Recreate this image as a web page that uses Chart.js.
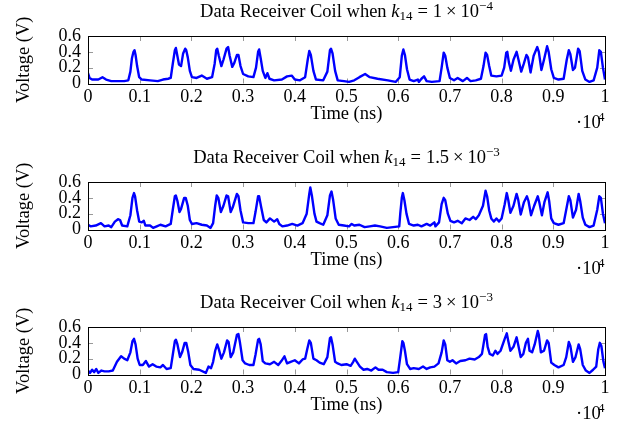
<!DOCTYPE html>
<html>
<head>
<meta charset="utf-8">
<script src="https://cdn.jsdelivr.net/npm/chart.js@4.4.0/dist/chart.umd.min.js"></script>
<style>
body { margin: 0; background: #fff; width: 623px; height: 429px; overflow: hidden; position: relative; }
.box { position: absolute; left: 0; width: 623px; height: 143px; }
</style>
</head>
<body>
<div class="box" style="top:0"><canvas id="c1"></canvas></div>
<div class="box" style="top:146px"><canvas id="c2"></canvas></div>
<div class="box" style="top:291px"><canvas id="c3"></canvas></div>
<script>
// coupling values shown in the titles
const coefs = ['1', '1.5', '3'];
const exps = ['\u22124', '\u22123', '\u22123'];

const xTicks = [0, 1000, 2000, 3000, 4000, 5000, 6000, 7000, 8000, 9000, 10000];
const yTicks = [0, 0.2, 0.4, 0.6];

// k14 = 1e-4
const t1 = [0,30,80,200,280,350,450,600,700,780,820,850,880,900,920,950,990,1040,1200,1350,1450,1550,1600,1640,1680,1700,1720,1760,1800,1840,1880,1900,1930,1970,2010,2100,2200,2300,2400,2450,2480,2500,2530,2580,2620,2680,2710,2740,2790,2830,2880,2910,2950,3000,3100,3200,3250,3290,3310,3340,3380,3430,3470,3510,3600,3750,3850,3940,4000,4100,4200,4250,4280,4310,4360,4410,4550,4630,4680,4700,4730,4780,4830,4950,5050,5150,5250,5360,5450,5600,5800,5950,6030,6070,6100,6130,6170,6220,6300,6380,6400,6450,6500,6550,6650,6800,6840,6880,6910,6950,7000,7080,7150,7250,7330,7400,7500,7600,7650,7690,7720,7760,7800,7900,8000,8050,8090,8110,8140,8180,8230,8290,8320,8380,8430,8480,8510,8560,8620,8690,8720,8770,8820,8880,8910,8960,9010,9100,9200,9260,9300,9330,9380,9420,9480,9510,9560,9620,9700,9780,9850,9890,9920,9960,10000];
const v1 = [0.13,0.07,0.05,0.05,0.08,0.05,0.03,0.03,0.03,0.04,0.15,0.32,0.40,0.42,0.36,0.22,0.08,0.05,0.04,0.03,0.05,0.06,0.07,0.25,0.42,0.45,0.38,0.24,0.22,0.38,0.44,0.42,0.33,0.16,0.08,0.07,0.10,0.06,0.08,0.25,0.42,0.44,0.35,0.22,0.30,0.44,0.46,0.35,0.21,0.26,0.36,0.36,0.22,0.12,0.09,0.08,0.20,0.40,0.43,0.32,0.16,0.07,0.13,0.06,0.04,0.05,0.09,0.10,0.05,0.04,0.08,0.30,0.41,0.36,0.16,0.05,0.04,0.15,0.42,0.44,0.38,0.16,0.04,0.03,0.02,0.04,0.08,0.12,0.08,0.06,0.04,0.02,0.08,0.35,0.43,0.36,0.18,0.05,0.03,0.05,0.02,0.06,0.09,0.03,0.02,0.03,0.20,0.39,0.35,0.20,0.07,0.04,0.07,0.03,0.07,0.03,0.04,0.06,0.22,0.39,0.36,0.22,0.10,0.09,0.10,0.20,0.39,0.40,0.27,0.16,0.30,0.40,0.32,0.15,0.25,0.36,0.33,0.14,0.35,0.46,0.40,0.17,0.30,0.47,0.40,0.18,0.07,0.05,0.06,0.30,0.42,0.37,0.17,0.20,0.44,0.41,0.16,0.05,0.02,0.04,0.20,0.42,0.40,0.20,0.05];

// k14 = 1.5e-3
const t2 = [0,50,150,250,320,400,450,520,580,620,660,760,820,860,890,910,950,990,1040,1080,1110,1200,1260,1330,1400,1500,1600,1640,1680,1700,1730,1770,1800,1860,1890,1930,1970,2010,2100,2200,2300,2370,2420,2460,2490,2520,2570,2620,2680,2710,2760,2800,2880,2910,2950,3000,3100,3200,3240,3290,3310,3350,3400,3450,3520,3600,3660,3700,3760,3850,3950,4050,4150,4230,4280,4300,4330,4380,4420,4480,4550,4630,4680,4710,4740,4790,4850,4950,5050,5100,5150,5250,5350,5450,5550,5650,5780,5900,6020,6040,6070,6090,6120,6160,6210,6300,6380,6450,6550,6620,6700,6720,6790,6840,6880,6910,6960,7010,7080,7150,7230,7300,7380,7450,7500,7560,7640,7690,7720,7760,7800,7850,7900,7950,8000,8060,8100,8130,8170,8230,8290,8320,8370,8430,8490,8520,8570,8630,8700,8730,8780,8830,8890,8920,8960,9010,9100,9200,9250,9300,9330,9380,9440,9490,9520,9570,9620,9700,9780,9850,9890,9920,9960,10000];
const v2 = [0.06,0.04,0.05,0.08,0.04,0.05,0.03,0.10,0.13,0.12,0.05,0.04,0.18,0.40,0.46,0.42,0.24,0.10,0.09,0.11,0.05,0.05,0.02,0.04,0.06,0.04,0.07,0.25,0.42,0.43,0.36,0.22,0.26,0.40,0.40,0.30,0.12,0.07,0.08,0.06,0.05,0.02,0.08,0.30,0.43,0.40,0.22,0.30,0.43,0.42,0.22,0.28,0.45,0.42,0.24,0.09,0.08,0.08,0.22,0.42,0.42,0.28,0.12,0.09,0.14,0.10,0.13,0.07,0.04,0.05,0.07,0.05,0.08,0.20,0.45,0.53,0.43,0.20,0.10,0.08,0.06,0.18,0.43,0.48,0.38,0.14,0.06,0.05,0.04,0.07,0.05,0.06,0.03,0.04,0.05,0.04,0.02,0.03,0.04,0.20,0.40,0.46,0.37,0.20,0.07,0.05,0.06,0.04,0.07,0.05,0.09,0.04,0.09,0.32,0.40,0.37,0.20,0.11,0.09,0.11,0.08,0.14,0.12,0.16,0.13,0.18,0.30,0.49,0.42,0.24,0.14,0.10,0.14,0.10,0.14,0.32,0.46,0.37,0.21,0.30,0.45,0.38,0.19,0.34,0.42,0.36,0.18,0.30,0.42,0.34,0.18,0.35,0.47,0.36,0.14,0.08,0.06,0.08,0.25,0.42,0.37,0.15,0.25,0.45,0.36,0.15,0.06,0.03,0.05,0.25,0.42,0.40,0.20,0.08];

// k14 = 3e-3
const t3 = [0,40,80,120,160,200,260,320,400,480,560,640,700,760,820,860,890,920,960,1000,1060,1120,1180,1250,1320,1400,1450,1520,1600,1640,1680,1700,1730,1780,1820,1870,1900,1940,1980,2040,2150,2280,2330,2380,2420,2460,2500,2530,2580,2630,2690,2720,2760,2810,2880,2910,2940,2990,3040,3120,3200,3240,3290,3310,3340,3380,3430,3520,3600,3680,3740,3800,3850,3920,4000,4080,4150,4200,4240,4280,4310,4360,4420,4480,4560,4630,4680,4700,4730,4780,4830,4900,5000,5080,5130,5160,5200,5260,5330,5400,5480,5560,5620,5700,5780,5900,6000,6040,6080,6100,6130,6170,6230,6300,6400,6480,6550,6620,6700,6780,6840,6880,6910,6950,7000,7050,7120,7200,7300,7380,7480,7560,7620,7680,7700,7730,7770,7830,7880,7920,7980,8060,8100,8130,8170,8230,8290,8320,8370,8420,8470,8510,8540,8590,8640,8700,8720,8760,8820,8880,8910,8960,9020,9100,9200,9250,9300,9330,9380,9430,9490,9520,9570,9630,9700,9770,9830,9870,9900,9930,9970,10000];
const v3 = [0.05,0.02,0.06,0.03,0.07,0.02,0.05,0.04,0.04,0.05,0.16,0.23,0.20,0.18,0.28,0.42,0.45,0.38,0.20,0.12,0.12,0.17,0.10,0.13,0.10,0.09,0.12,0.07,0.08,0.25,0.42,0.44,0.38,0.22,0.28,0.40,0.40,0.28,0.12,0.07,0.06,0.02,0.10,0.08,0.16,0.30,0.38,0.32,0.20,0.28,0.43,0.41,0.22,0.28,0.50,0.51,0.40,0.18,0.14,0.12,0.12,0.25,0.44,0.45,0.38,0.17,0.14,0.13,0.16,0.12,0.17,0.23,0.14,0.16,0.18,0.14,0.19,0.20,0.32,0.43,0.40,0.20,0.18,0.15,0.13,0.22,0.46,0.47,0.38,0.16,0.14,0.12,0.13,0.11,0.16,0.20,0.16,0.10,0.06,0.07,0.05,0.09,0.06,0.06,0.03,0.02,0.03,0.22,0.42,0.40,0.30,0.13,0.07,0.08,0.07,0.10,0.07,0.09,0.10,0.14,0.28,0.43,0.38,0.18,0.16,0.18,0.14,0.17,0.18,0.20,0.19,0.22,0.26,0.50,0.51,0.35,0.26,0.24,0.30,0.26,0.30,0.45,0.52,0.42,0.30,0.35,0.47,0.38,0.22,0.26,0.40,0.45,0.30,0.28,0.38,0.55,0.50,0.28,0.30,0.43,0.40,0.15,0.12,0.09,0.12,0.22,0.41,0.36,0.16,0.22,0.38,0.32,0.12,0.05,0.02,0.06,0.10,0.32,0.40,0.36,0.16,0.08];

const SERIF = '"Liberation Serif", "Times New Roman", serif';
const FS = 18;

// frame, inward ticks and the LaTeX-like labels
const decor = {
    id: 'decor',
    beforeDatasetsDraw(chart, args, opts) {
        const ctx = chart.ctx, a = chart.chartArea;
        const xs = chart.scales.x, ys = chart.scales.y;
        ctx.save();
        ctx.strokeStyle = '#999';
        ctx.lineWidth = 1;
        ctx.beginPath();
        xTicks.forEach(v => {
            const px = Math.round(xs.getPixelForValue(v)) + 0.5;
            ctx.moveTo(px, a.bottom); ctx.lineTo(px, a.bottom - 5);
            ctx.moveTo(px, a.top); ctx.lineTo(px, a.top + 5);
        });
        yTicks.forEach(v => {
            const py = Math.round(ys.getPixelForValue(v)) + 0.5;
            ctx.moveTo(a.left, py); ctx.lineTo(a.left + 5, py);
            ctx.moveTo(a.right, py); ctx.lineTo(a.right - 5, py);
        });
        ctx.stroke();
        ctx.restore();
    },
    afterDatasetsDraw(chart, args, opts) {
        const ctx = chart.ctx, a = chart.chartArea;
        ctx.save();
        ctx.strokeStyle = '#000';
        ctx.lineWidth = 1;
        ctx.strokeRect(Math.round(a.left) + 0.5, Math.round(a.top) + 0.5,
            Math.round(a.right - a.left), Math.round(a.bottom - a.top));
        ctx.fillStyle = '#000';
        ctx.textBaseline = 'alphabetic';
        const cx = (a.left + a.right) / 2;

        // title, math spacing a bit wider as in LaTeX
        const big = FS + 'px ' + SERIF, small = '13px ' + SERIF;
        const parts = [
            { s: 'Data Receiver Coil when ', f: '18.5px ' + SERIF, dy: 0, pad: 0 },
            { s: 'k', f: 'italic 18.5px ' + SERIF, dy: 0, pad: 0 },
            { s: '14', f: small, dy: 3, pad: 0 },
            { s: '=', f: '18.5px ' + SERIF, dy: 0, pad: 5 },
            { s: opts.coef, f: '18.5px ' + SERIF, dy: 0, pad: 0 },
            { s: '\u00d7', f: '18.5px ' + SERIF, dy: 0, pad: 4 },
            { s: '10', f: '18.5px ' + SERIF, dy: 0, pad: 0 },
            { s: opts.exp, f: small, dy: -7, pad: 0 }
        ];
        let w = 0;
        parts.forEach(p => { ctx.font = p.f; w += ctx.measureText(p.s).width + 2 * p.pad; });
        let x = cx - w / 2;
        ctx.textAlign = 'left';
        parts.forEach(p => {
            ctx.font = p.f;
            x += p.pad;
            ctx.fillText(p.s, x, a.top - 19 + p.dy);
            x += ctx.measureText(p.s).width + p.pad;
        });

        // x axis label and multiplier
        ctx.font = '18.5px ' + SERIF;
        ctx.textAlign = 'center';
        ctx.fillText('Time (ns)', cx, a.bottom + 35);
        ctx.textAlign = 'left';
        ctx.fillText('\u00b710', 576, a.bottom + 44);
        ctx.font = small;
        ctx.fillText('4', 598, a.bottom + 37);

        // y axis label
        ctx.translate(29, (a.top + a.bottom) / 2);
        ctx.rotate(-Math.PI / 2);
        ctx.font = '18.5px ' + SERIF;
        ctx.textAlign = 'center';
        ctx.fillText('Voltage (V)', 0, 0);
        ctx.restore();
    }
};

function makeChart(id, times, volts, k) {
    const ctx = document.getElementById(id).getContext('2d');
    return new Chart(ctx, {
        type: 'line',
        data: {
            datasets: [{
                data: times.map((t, i) => ({ x: t, y: volts[i] })),
                borderColor: '#0000ff',
                borderWidth: 2.4,
                borderJoinStyle: 'round',
                pointRadius: 0,
                tension: 0,
                fill: false
            }]
        },
        options: {
            responsive: true,
            maintainAspectRatio: false,
            animation: false,
            layout: { padding: { top: 36, right: 18, left: 0, bottom: 0 } },
            plugins: {
                legend: { display: false },
                title: { display: false },
                tooltip: { enabled: false },
                decor: { coef: coefs[k], exp: exps[k] }
            },
            scales: {
                x: {
                    type: 'linear', min: 0, max: 10000,
                    grid: { display: false, drawTicks: false },
                    border: { display: false },
                    afterBuildTicks: s => { s.ticks = xTicks.map(v => ({ value: v })); },
                    afterFit: s => { s.height = 59.5; },
                    ticks: {
                        autoSkip: false, maxRotation: 0, padding: 3, color: '#000',
                        font: { family: SERIF, size: FS },
                        callback: v => String(v / 10000)
                    }
                },
                y: {
                    min: 0, max: 0.6,
                    grid: { display: false, drawTicks: false },
                    border: { display: false },
                    afterBuildTicks: s => { s.ticks = yTicks.map(v => ({ value: v })); },
                    afterFit: s => { s.width = 88; },
                    ticks: {
                        autoSkip: false, padding: 7, color: '#000',
                        font: { family: SERIF, size: FS },
                        callback: v => String(Math.round(v * 10) / 10)
                    }
                }
            }
        },
        plugins: [decor]
    });
}

window.onload = function() {
    makeChart('c1', t1, v1, 0);
    makeChart('c2', t2, v2, 1);
    makeChart('c3', t3, v3, 2);
};
</script>
</body>
</html>
